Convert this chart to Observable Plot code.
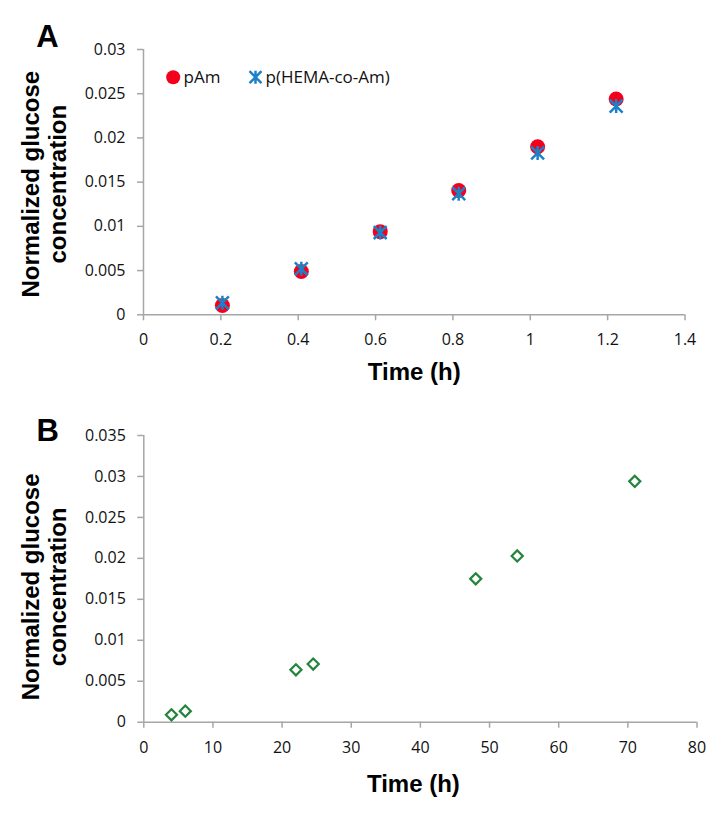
<!DOCTYPE html>
<html>
<head>
<meta charset="utf-8">
<script src="https://cdn.jsdelivr.net/npm/d3@7"></script>
<script src="https://cdn.jsdelivr.net/npm/@observablehq/plot@0.6"></script>
<style>
  html, body { margin: 0; padding: 0; background: #fff; }
  #chart svg { display: block; }
</style>
</head>
<body>
<div id="chart"></div>
<script>
// ---- Panel A data ----
const timeA = [0.204, 0.408, 0.612, 0.815, 1.019, 1.222];
const pAm = [0.00105, 0.0049, 0.0094, 0.01405, 0.0190, 0.0244];
const pHEMAcoAm = [0.00135, 0.0052, 0.0093, 0.0137, 0.0183, 0.0236];
const seriesNamesA = ["pAm", "p(HEMA-co-Am)"];
const xTicksA = [0, 0.2, 0.4, 0.6, 0.8, 1, 1.2, 1.4];
const yTicksA = [0, 0.005, 0.01, 0.015, 0.02, 0.025, 0.03];

// ---- Panel B data ----
const timeB = [4, 6, 22, 24.5, 48, 54, 71];
const glucoseB = [0.0009, 0.00135, 0.0064, 0.0071, 0.0175, 0.0203, 0.0294];
const xTicksB = [0, 10, 20, 30, 40, 50, 60, 70, 80];
const yTicksB = [0, 0.005, 0.01, 0.015, 0.02, 0.025, 0.03, 0.035];

const yTitle = "Normalized glucose\nconcentration";
const xTitle = "Time (h)";

const dataA = timeA.map((t, i) => ({t, pAm: pAm[i], hema: pHEMAcoAm[i]}));
const dataB = timeB.map((t, i) => ({t, g: glucoseB[i]}));

const RED = "#f4001c", BLUE = "#1b82c9", GREEN = "#24843c", GRAY = "#a6a6a6";
const titleFont = "'Liberation Sans', Arial, sans-serif";
const tickFont = "'Open Sans', sans-serif";

const star = {
  draw(context, size) {
    const r = Math.sqrt(size / Math.PI);
    const a = r * 0.92;
    context.moveTo(-a, -a); context.lineTo(a, a);
    context.moveTo(a, -a); context.lineTo(-a, a);
    context.moveTo(0, -r); context.lineTo(0, r);
  }
};

const fmt = d => String(d);

function axes(xt, yt) {
  return [
    Plot.ruleY([0], {stroke: GRAY, strokeWidth: 1.5}),
    Plot.ruleX([0], {stroke: GRAY, strokeWidth: 1.5}),
    Plot.axisX(xt, {tickFormat: fmt, tickSize: 6, tickPadding: 13, stroke: GRAY, strokeWidth: 1.5, fill: "#111", label: null}),
    Plot.axisY(yt, {tickFormat: fmt, tickSize: 6, tickPadding: 12, stroke: GRAY, strokeWidth: 1.5, fill: "#111", label: null})
  ];
}

function titles(letter, letterDy, ydy, xdx, xdy) {
  return [
    Plot.text([yTitle], {frameAnchor: "left", dx: -100, dy: ydy, rotate: -90, textAnchor: "middle", lineAnchor: "middle", fontWeight: "bold", fontSize: 24, lineHeight: 1.13, fontFamily: titleFont, fill: "#000"}),
    Plot.text([xTitle], {frameAnchor: "bottom", dx: xdx, dy: xdy, textAnchor: "middle", lineAnchor: "middle", fontWeight: "bold", fontSize: 24, fontFamily: titleFont, fill: "#000"}),
    Plot.text([letter], {frameAnchor: "top-left", dx: -96, dy: letterDy, textAnchor: "middle", lineAnchor: "middle", fontWeight: "bold", fontSize: 31, fontFamily: titleFont, fill: "#000"})
  ];
}

const plotA = Plot.plot({
  width: 724, height: 400,
  marginLeft: 143, marginRight: 39.5, marginTop: 49, marginBottom: 85.7,
  style: {fontFamily: tickFont, fontSize: "16px", background: "#fff", color: "#111"},
  x: {domain: [0, 1.4]},
  y: {domain: [0, 0.03]},
  marks: [
    ...axes(xTicksA, yTicksA),
    Plot.dot(dataA, {x: "t", y: "pAm", r: 7.5, fill: RED, stroke: "none"}),
    Plot.dot(dataA, {x: "t", y: "hema", symbol: star, r: 7, fill: "none", stroke: BLUE, strokeWidth: 2.5}),
    // legend
    Plot.dot([seriesNamesA[0]], {frameAnchor: "top-left", dx: 29.7, dy: 27.7, r: 7, fill: RED, stroke: "none"}),
    Plot.text([seriesNamesA[0]], {frameAnchor: "top-left", dx: 40, dy: 28, textAnchor: "start", lineAnchor: "middle", fontSize: 17, fontFamily: tickFont, fill: "#111"}),
    Plot.dot([seriesNamesA[1]], {frameAnchor: "top-left", dx: 112, dy: 27.7, r: 6.5, symbol: star, fill: "none", stroke: BLUE, strokeWidth: 2.5}),
    Plot.text([seriesNamesA[1]], {frameAnchor: "top-left", dx: 122, dy: 28, textAnchor: "start", lineAnchor: "middle", fontSize: 17, fontFamily: tickFont, fill: "#111"}),
    ...titles("A", -12, 2, 0, 58)
  ]
});

const plotB = Plot.plot({
  width: 724, height: 415,
  marginLeft: 143.3, marginRight: 27.5, marginTop: 35, marginBottom: 93.3,
  style: {fontFamily: tickFont, fontSize: "16px", background: "#fff", color: "#111"},
  x: {domain: [0, 80]},
  y: {domain: [0, 0.035]},
  marks: [
    ...axes(xTicksB, yTicksB),
    Plot.dot(dataB, {x: "t", y: "g", symbol: "diamond2", r: 5, fill: "none", stroke: GREEN, strokeWidth: 2.2}),
    ...titles("B", -4, 8, -7, 62)
  ]
});

document.getElementById("chart").append(plotA, plotB);
</script>
</body>
</html>
